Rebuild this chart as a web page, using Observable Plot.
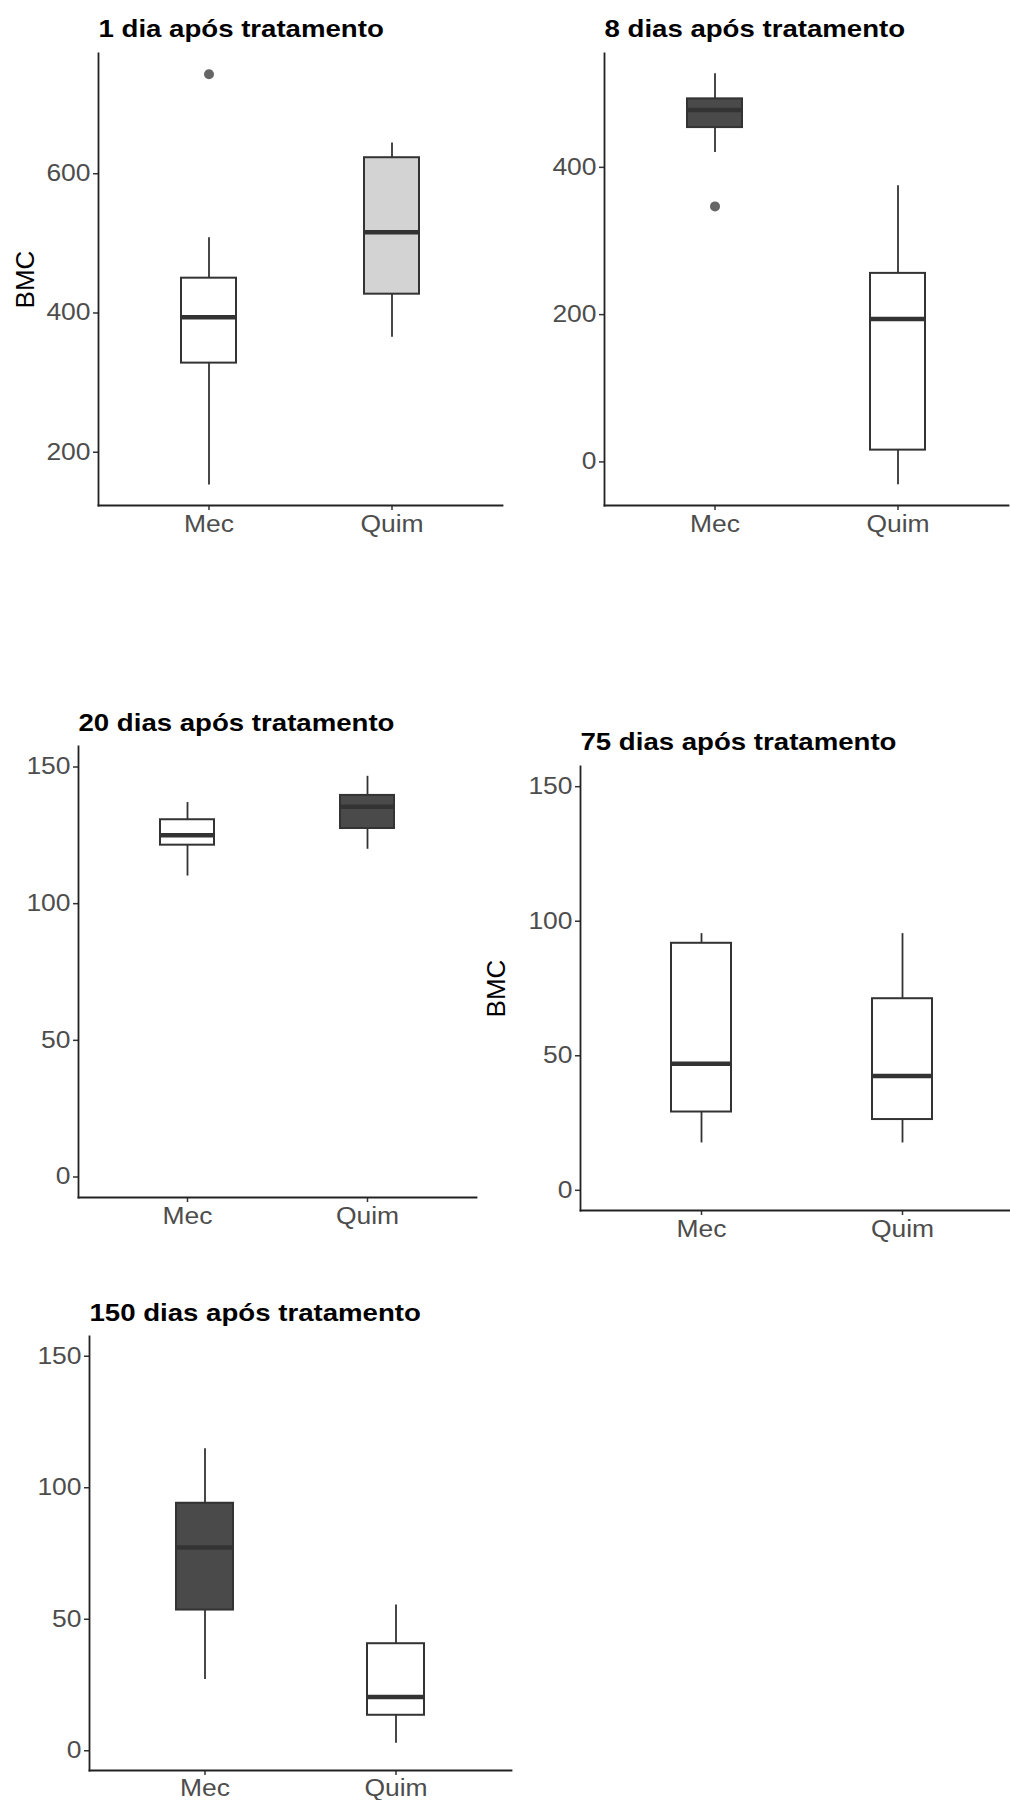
<!DOCTYPE html>
<html><head><meta charset="utf-8">
<script src="https://cdn.jsdelivr.net/npm/d3@7"></script>
<script src="https://cdn.jsdelivr.net/npm/@observablehq/plot@0.6"></script>
<style>
body{margin:0;background:#fff;}
#root{position:relative;width:1010px;height:1800px;background:#fff;overflow:hidden;font-family:"Liberation Sans",Arial,sans-serif;}
.panel{position:absolute;}
.panel svg{max-width:none !important;display:block;}
</style></head><body><div id="root"></div>
<script>
// ---- data ----
const groups = ["Mec", "Quim"];
const titles = ["1 dia após tratamento", "8 dias após tratamento", "20 dias após tratamento", "75 dias após tratamento", "150 dias após tratamento"];
const whiskerLow  = [[153, 365], [420, -31], [110.1, 119.9], [17.6, 17.6], [27.1, 2.9]];
const quartile1   = [[328, 427], [454, 16], [121.4, 127.5], [29.1, 26.3], [53.5, 13.5]];
const medians     = [[394, 516], [478, 194], [125, 135.5], [47, 42.5], [77.3, 20.4]];
const quartile3   = [[450, 623], [493, 256], [130.7, 139.6], [91.8, 71.2], [94.1, 40.7]];
const whiskerHigh = [[508, 644], [527, 375], [137, 146.6], [95.4, 95.4], [114.8, 55.4]];
const outlierPanel = [0, 1];
const outlierGroup = ["Mec", "Mec"];
const outlierValue = [743, 347];
const yTicks = [[200, 400, 600], [0, 200, 400], [0, 50, 100, 150], [0, 50, 100, 150], [0, 50, 100, 150]];
const yDomains = [[123.5, 772.7], [-59.2, 554.6], [-7.5, 157.5], [-7.5, 157.5], [-7.5, 157.5]];
const showYLabel = [true, false, false, true, false];
const boxFill = [["#ffffff", "#d3d3d3"], ["#4a4a4a", "#ffffff"], ["#ffffff", "#4a4a4a"], ["#ffffff", "#ffffff"], ["#4a4a4a", "#ffffff"]];

// ---- layout (page pixels) ----
const layout = [
  {left: 0,   top: 0,    width: 505, height: 560, ml: 98,  mt: 53, mr: 3,  mb: 55, tdy: -16.5, xpad: 5.5},
  {left: 505, top: 0,    width: 505, height: 560, ml: 99,  mt: 53, mr: 2,  mb: 55, tdy: -16.5, xpad: 5.5},
  {left: 0,   top: 690,  width: 490, height: 550, ml: 78,  mt: 56, mr: 14, mb: 43, tdy: -15.5, xpad: 5.5},
  {left: 470, top: 700,  width: 560, height: 560, ml: 110, mt: 66, mr: 6,  mb: 50, tdy: -16.5, xpad: 5.5},
  {left: 0,   top: 1280, width: 520, height: 520, ml: 89,  mt: 56, mr: 9,  mb: 30, tdy: -15.5, xpad: 4}
];

const STRETCH = 1.15;
const root = document.getElementById("root");

titles.forEach((title, i) => {
  const L = layout[i];
  const rows = groups.map((g, j) => ({
    group: g, lo: whiskerLow[i][j], q1: quartile1[i][j], med: medians[i][j],
    q3: quartile3[i][j], hi: whiskerHigh[i][j], fill: boxFill[i][j]
  }));
  const outs = outlierValue.map((v, k) => ({panel: outlierPanel[k], group: outlierGroup[k], value: v}))
    .filter(d => d.panel === i);
  const marks = [
    Plot.ruleX(rows, {x: "group", y1: "lo", y2: "q1", stroke: "#333", strokeWidth: 1.8}),
    Plot.ruleX(rows, {x: "group", y1: "q3", y2: "hi", stroke: "#333", strokeWidth: 1.8}),
    Plot.barY(rows, {x: "group", y1: "q1", y2: "q3", fill: "fill", stroke: "#333", strokeWidth: 2}),
    Plot.tickY(rows, {x: "group", y: "med", stroke: "#333", strokeWidth: 4.5}),
    Plot.dot(outs, {x: "group", y: "value", r: 5, fill: "#666", stroke: null}),
    Plot.axisY({ticks: yTicks[i], tickSize: 5, tickPadding: 3, stroke: "#333", fill: "#4d4d4d", strokeWidth: 1.5, label: null, fontSize: 23}),
    Plot.axisX({tickSize: 5, tickPadding: L.xpad, stroke: "#333", fill: "#4d4d4d", strokeWidth: 1.5, label: null, fontSize: 23}),
    Plot.frame({anchor: "left", stroke: "#222", strokeWidth: 1.8}),
    Plot.frame({anchor: "bottom", stroke: "#222", strokeWidth: 1.8}),
    Plot.text([title], {frameAnchor: "top-left", dy: L.tdy, lineAnchor: "bottom", textAnchor: "start", fontWeight: "bold", fontSize: 24, fill: "#000"})
  ];
  if (showYLabel[i]) {
    marks.push(Plot.text(["BMC"], {frameAnchor: "left", dx: -(L.ml - (i === 3 ? 26 : 25)), rotate: -90, textAnchor: "middle", lineAnchor: "middle", fontSize: 26, fill: "#000"}));
  }
  const svg = Plot.plot({
    width: L.width, height: L.height,
    marginLeft: L.ml, marginTop: L.mt, marginRight: L.mr, marginBottom: L.mb,
    style: {fontFamily: "'Liberation Sans', Arial, sans-serif", fontSize: "23px", background: "transparent", overflow: "visible", maxWidth: "none"},
    x: {type: "band", domain: groups, paddingInner: 0.7, paddingOuter: 0.45},
    y: {domain: yDomains[i]},
    color: {type: "identity"},
    marks
  });
  const wrap = document.createElement("div");
  wrap.className = "panel";
  wrap.style.left = L.left + "px";
  wrap.style.top = L.top + "px";
  wrap.style.width = L.width + "px";
  wrap.style.height = L.height + "px";
  wrap.appendChild(svg);
  root.appendChild(wrap);
  svg.querySelectorAll("text").forEach(t => {
    const tr = t.getAttribute("transform") || "";
    if (tr.includes("rotate")) return;
    const w = t.getComputedTextLength();
    if (w > 0) {
      t.setAttribute("textLength", (w * STRETCH).toFixed(2));
      t.setAttribute("lengthAdjust", "spacingAndGlyphs");
    }
  });
});
</script>
</body></html>
